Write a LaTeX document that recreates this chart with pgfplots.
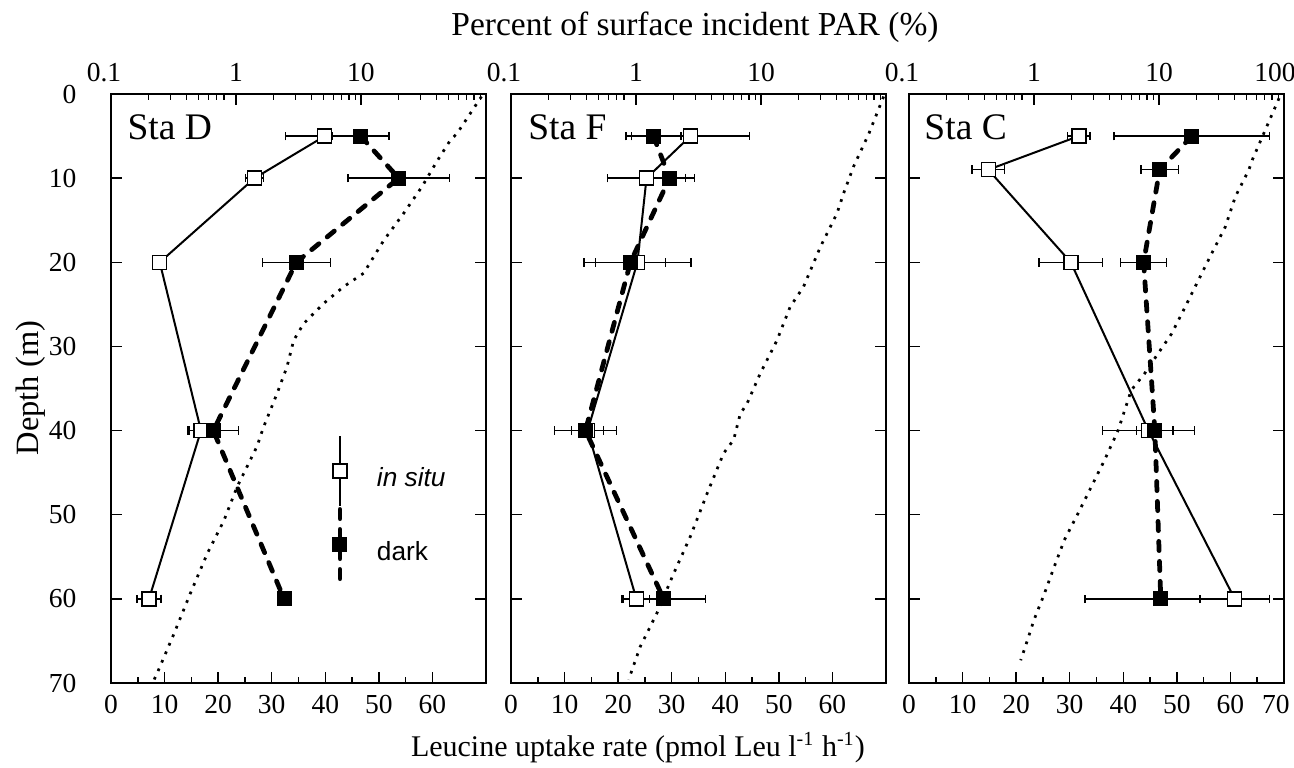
\documentclass[border=0pt]{standalone}
\usepackage{fontspec}
\setmainfont{Liberation Serif}
\setsansfont{Liberation Sans}
\usepackage{pgfplots}
\pgfplotsset{compat=1.18}

% 1 px of the reference = 0.4pt
\pgfplotsset{
  panel/.style={
    scale only axis, width=150pt, height=235.6pt,
    xmin=0, xmax=70, ymin=0, ymax=70, y dir=reverse,
    axis line style={line width=0.7pt},
    tick align=inside, xtick pos=lower, ytick pos=both,
    xtick={0,10,...,60}, minor x tick num=1,
    ytick={0,10,...,70}, yticklabels={},
    major tick length=4.5pt, minor tick length=2.4pt,
    every tick/.style={black, line width=0.6pt},
    tick label style={font=\fontsize{11}{12}\selectfont},
    xticklabel shift=1.3pt,
    /pgf/number format/assume math mode=true,
  },
  paraxis/.style={
    scale only axis, width=150pt, height=235.6pt,
    xmin=0.1, xmax=100, ymin=0, ymax=70, y dir=reverse,
    axis x line*=top, hide y axis,
    xtick={0.1,1,10,100},
    minor xtick={0.2,0.3,...,0.9,2,3,...,9,20,30,...,90},
    tick align=inside, major tick length=4.5pt, minor tick length=2.4pt,
    every tick/.style={black, line width=0.6pt},
    axis line style={line width=0.7pt},
    tick label style={font=\fontsize{11}{12}\selectfont},
    xticklabel shift=1.3pt,
  },
  insitu/.style={black, line width=0.8pt, mark=square*, mark size=2.8pt,
    mark options={solid, fill=white, line width=0.6pt},
    error bars/x dir=both, error bars/x explicit,
    error bars/error bar style={solid, line width=0.6pt},
    error bars/error mark options={solid, line width=0.6pt, mark size=1.7pt, rotate=90}},
  dark/.style={black, line width=1.9pt, dash pattern=on 3.7pt off 4.3pt, line cap=round,
    mark=square*, mark size=2.8pt, mark options={solid, fill=black, line width=0.4pt},
    error bars/x dir=both, error bars/x explicit,
    error bars/error bar style={solid, line width=0.6pt, line cap=butt},
    error bars/error mark options={solid, line width=0.6pt, mark size=1.7pt, line cap=butt, rotate=90}},
  parline/.style={black, line width=1.1pt, dash pattern=on 1.1pt off 2.6pt, no markers},
}
\tikzset{sta/.style={anchor=base west, inner sep=0pt, font=\fontsize{15}{17}\selectfont}}

\begin{document}
\begin{tikzpicture}
\path[use as bounding box] (-44.4pt,-34pt) rectangle (473.2pt,273.2pt);

% ---------------- Sta D ----------------
\begin{axis}[panel, at={(0pt,0pt)}, anchor=south west,
  yticklabels={0,10,20,30,40,50,60,70},
  yticklabel shift=10.3pt,
  legend image code/.code={\draw[mark repeat=2,mark phase=2,#1] plot coordinates {(0pt,17.2pt) (0pt,3.2pt) (0pt,-10.8pt)};},
  legend cell align=left,
  legend style={draw=none, fill=none, inner sep=0pt, outer sep=0pt, row sep=0pt, column sep=12pt,
    at={(axis description cs:0.592,0.421)}, anchor=north west,
    font=\sffamily\fontsize{10.5}{12}\selectfont, nodes={inner sep=0pt}},
]
\addplot[insitu] coordinates {
  (39.9,5) +- (7.3,0)
  (26.8,10) +- (1.7,0)
  (9.1,20) +- (0.6,0)
  (16.8,40) +- (2.2,0)
  (7.1,60) +- (2.2,0)
};
\addlegendentry{\textit{in situ}}
\addplot[dark] coordinates {
  (46.6,5) +- (5.3,0)
  (53.7,10) +- (9.5,0)
  (34.6,20) +- (6.35,0)
  (19.1,40) +- (4.7,0)
  (32.3,60) +- (0.6,0)
};
\addlegendentry{dark}
\node[sta] at (axis description cs:0.043,0.922) {Sta D};
\end{axis}
\begin{semilogxaxis}[paraxis, at={(0pt,0pt)}, anchor=south west,
  xticklabels={0.1\hspace*{5.6pt},1,10,}]
\addplot[parline] coordinates {
  (92,0.3) (58.6,4.7) (51.8,5.5) (40.5,8.0) (30.8,11.0) (21.9,14.2) (15.2,17.4)
  (10.5,21.3) (7.26,22.9) (5.02,24.9) (3.47,27.3) (2.89,29.3) (2.56,32.4)
  (2.13,35.6) (1.66,39.6) (1.47,41.9) (1.02,46.7) (0.80,50.7) (0.59,54.6)
  (0.43,59.4) (0.32,64.1) (0.233,68.9) (0.215,70)
};
\end{semilogxaxis}

% ---------------- Sta F ----------------
\begin{axis}[panel, at={(160pt,0pt)}, anchor=south west]
\addplot[insitu] coordinates {
  (33.5,5) +- (11,0)
  (25.3,10) +- (7.3,0)
  (23.6,20) +- (10,0)
  (14.3,40) +- (3,0)
  (23.4,60) +- (2.5,0)
};
\addplot[dark] coordinates {
  (26.6,5) +- (5.1,0)
  (29.6,10) +- (4.7,0)
  (22.3,20) +- (6.5,0)
  (13.9,40) +- (5.8,0)
  (28.5,60) +- (7.8,0)
};
\node[sta] at (axis description cs:0.045,0.922) {Sta F};
\end{axis}
\begin{semilogxaxis}[paraxis, at={(160pt,0pt)}, anchor=south west,
  xticklabels={0.1\hspace*{5.6pt},1,10,}]
\addplot[parline] coordinates {
  (95.7,0.3) (73,4.7) (55.1,8.6) (45.8,11.8) (40.5,14.2) (29.8,18.2) (21.9,22.9)
  (17.1,25.3) (13.4,29.3) (9.87,33.2) (7.73,36.8) (6.83,38.0) (6.04,41.1)
  (5.02,42.7) (3.70,47.5) (2.72,52.6) (2.00,57.0) (1.47,61.7) (1.08,65.7) (0.873,69.6)
};
\end{semilogxaxis}

% ---------------- Sta C ----------------
\begin{axis}[panel, at={(319.2pt,0pt)}, anchor=south west, xtick={0,10,...,70},
  xticklabels={0,10,20,30,40,50,60,70\hspace*{6.4pt}}]
\addplot[insitu] coordinates {
  (31.7,5) +- (2.1,0)
  (14.8,9) +- (3.05,0)
  (30.2,20) +- (5.9,0)
  (44.7,40) +- (8.55,0)
  (60.8,60) +- (6.5,0)
};
\addplot[dark] coordinates {
  (52.8,5) +- (14.5,0)
  (46.8,9) +- (3.5,0)
  (43.8,20) +- (4.3,0)
  (45.9,40) +- (3.4,0)
  (47.0,60) +- (14.1,0)
};
\node[sta] at (axis description cs:0.04,0.922) {Sta C};
\end{axis}
\begin{semilogxaxis}[paraxis, at={(319.2pt,0pt)}, anchor=south west,
  xticklabels={0.1\hspace*{5.6pt},1,10,100\hspace*{7.2pt}}]
\addplot[parline] coordinates {
  (91.3,0.5) (67,5.1) (55.7,7.85) (52.4,9.0) (40.8,12.2) (33.9,15.8) (26.5,18.9)
  (20.7,22.1) (16.2,25.3) (12.6,28.5) (9.87,30.8) (7.69,33.2) (6.0,35.2)
  (4.7,40.0) (3.67,43.5) (2.87,46.7) (2.24,49.9) (1.75,53.0) (1.45,56.2)
  (1.21,59.4) (1.00,62.5) (0.887,64.9) (0.783,67.3)
};
\end{semilogxaxis}

% ---------------- shared titles ----------------
\node[font=\fontsize{13.4}{15}\selectfont] at (233.6pt,262.4pt) {Percent of surface incident PAR (\%)};
\node[font=\fontsize{12}{14}\selectfont] at (210.8pt,-26pt) {Leucine uptake rate (pmol Leu l\textsuperscript{-1} h\textsuperscript{-1})};
\node[rotate=90, font=\fontsize{13}{15}\selectfont] at (-32pt,118pt) {Depth (m)};
\end{tikzpicture}
\end{document}
